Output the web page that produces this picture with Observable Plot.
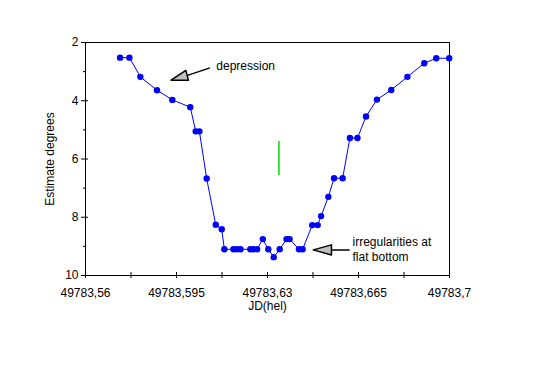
<!DOCTYPE html>
<html><head><meta charset="utf-8">
<script src="https://cdn.jsdelivr.net/npm/d3@7"></script>
<script src="https://cdn.jsdelivr.net/npm/@observablehq/plot@0.6"></script>
<style>body{margin:0;background:#fff}</style>
</head><body><div id="chart"></div>
<script>
// Observations: heliocentric Julian date and estimated brightness (degrees)
const jd = [49783.5733, 49783.5769, 49783.5811, 49783.5875, 49783.5934, 49783.6003, 49783.6024, 49783.6038,
  49783.6066, 49783.6101, 49783.6124, 49783.6134, 49783.6169, 49783.6182, 49783.6196, 49783.6234,
  49783.6246, 49783.6260, 49783.6282, 49783.6303, 49783.6324, 49783.6347, 49783.6373, 49783.6385,
  49783.6421, 49783.6435, 49783.6472, 49783.6493, 49783.6506, 49783.6534, 49783.6556, 49783.6589,
  49783.6617, 49783.6646, 49783.6679, 49783.6721, 49783.6776, 49783.6838, 49783.6903, 49783.6949, 49783.6999];
const estimate = [2.52, 2.52, 3.18, 3.64, 3.97, 4.22, 5.05, 5.05,
  6.67, 8.26, 8.41, 9.10, 9.10, 9.10, 9.10, 9.10,
  9.10, 9.10, 8.75, 9.10, 9.37, 9.10, 8.75, 8.75,
  9.10, 9.10, 8.27, 8.27, 7.96, 7.30, 6.66, 6.66,
  5.28, 5.28, 4.54, 3.96, 3.63, 3.18, 2.71, 2.54, 2.54];

const xMajorTicks = [49783.56, 49783.595, 49783.63, 49783.665, 49783.7];
const xMinorTicks = [49783.5775, 49783.6125, 49783.6475, 49783.6825];
const yMajorTicks = [2, 4, 6, 8, 10];
const yMinorTicks = [3, 5, 7, 9];

// mid-minimum marker
const midMarker = [{x: 49783.6344, y1: 5.40, y2: 6.57}];

// annotations (data coordinates)
const notes = [
  {x: 49783.6103, y: 2.78, label: "depression"},
  {x: 49783.6627, y: 9.08, label: "irregularities at\nflat bottom"}
];
const arrowHead1 = [{x: 49783.5929, y: 3.293}, {x: 49783.5986, y: 2.959}, {x: 49783.5996, y: 3.300}, {x: 49783.5929, y: 3.293}];
const arrowTail1 = [{x: 49783.5995, y: 3.121}, {x: 49783.6076, y: 2.879}];
const arrowHead2 = [{x: 49783.6476, y: 9.121}, {x: 49783.6546, y: 8.948}, {x: 49783.6546, y: 9.293}, {x: 49783.6476, y: 9.121}];
const arrowTail2 = [{x: 49783.6546, y: 9.121}, {x: 49783.6614, y: 9.121}];

const data = jd.map((d, i) => ({jd: d, est: estimate[i]}));
const fmt = d => String(+d.toFixed(3)).replace(".", ",");
const xMin = 49783.56, yMax = 10;

const chart = Plot.plot({
  width: 542,
  height: 368,
  marginLeft: 85,
  marginRight: 93,
  marginTop: 42,
  marginBottom: 93,
  style: {fontFamily: "'Liberation Sans', Arial, sans-serif", fontSize: "12px", color: "black", background: "white"},
  x: {domain: [49783.56, 49783.7]},
  y: {domain: [2, 10], reverse: true},
  marks: [
    Plot.axisX({ticks: xMajorTicks, tickSize: 0, tickPadding: 13, tickFormat: fmt,
      label: "JD(hel)", labelAnchor: "center", labelOffset: 34, labelArrow: "none"}),
    Plot.axisY({ticks: yMajorTicks, tickSize: 0, tickPadding: 7,
      label: "Estimate degrees", labelAnchor: "center", labelOffset: 40, labelArrow: "none"}),
    Plot.ruleX(xMajorTicks, {x: d => d, y1: yMax, y2: yMax, insetTop: -3, insetBottom: -3, stroke: "black"}),
    Plot.ruleX(xMinorTicks, {x: d => d, y1: yMax, y2: yMax, insetTop: -3, insetBottom: -3, stroke: "black"}),
    Plot.ruleY(yMajorTicks, {y: d => d, x1: xMin, x2: xMin, insetLeft: -4, insetRight: -3, stroke: "black"}),
    Plot.ruleY(yMinorTicks, {y: d => d, x1: xMin, x2: xMin, insetLeft: -2, insetRight: -1, stroke: "black"}),
    Plot.frame({stroke: "black"}),
    Plot.ruleX(midMarker, {x: "x", y1: "y1", y2: "y2", stroke: "#00e000", strokeWidth: 1.5}),
    Plot.line(data, {x: "jd", y: "est", stroke: "#0000ff", strokeWidth: 1}),
    Plot.dot(data, {x: "jd", y: "est", r: 3.2, fill: "#0000ff", stroke: "none"}),
    Plot.line(arrowTail1, {x: "x", y: "y", stroke: "black"}),
    Plot.line(arrowHead1, {x: "x", y: "y", fill: "#c0c0c0", stroke: "black"}),
    Plot.line(arrowTail2, {x: "x", y: "y", stroke: "black"}),
    Plot.line(arrowHead2, {x: "x", y: "y", fill: "#c0c0c0", stroke: "black"}),
    Plot.text(notes, {x: "x", y: "y", text: "label", textAnchor: "start", lineHeight: 1.2, fontSize: 12, fill: "black"})
  ]
});
document.getElementById("chart").appendChild(chart);
</script>
</body></html>
